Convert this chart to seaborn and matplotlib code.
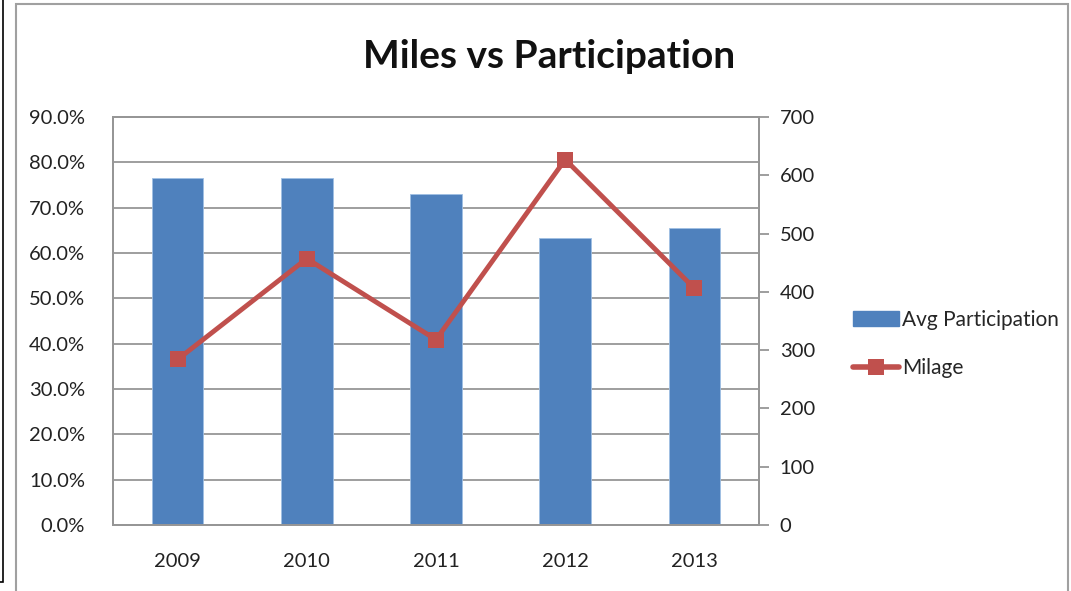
import matplotlib
matplotlib.use("Agg")
import matplotlib.pyplot as plt
import matplotlib.ticker as mtick
from matplotlib.lines import Line2D
from matplotlib.patches import Rectangle
import seaborn as sns
import pandas as pd

years = ["2009", "2010", "2011", "2012", "2013"]
participation = [76.6, 76.6, 73.0, 63.4, 65.6]
milage = [284, 457, 318, 627, 406]

sns.set_style("white")
plt.rcParams["font.family"] = ["Lato", "DejaVu Sans"]

df = pd.DataFrame({"Year": years, "Avg Participation": participation, "Milage": milage})

fig = plt.figure(figsize=(10.71, 5.91), dpi=100)
ax = fig.add_axes([113 / 1071, 1 - 525 / 591, (759 - 113) / 1071, (525 - 117) / 591])

blue = "#4f81bd"
red = "#c0504d"
grid = "#969696"

sns.barplot(data=df, x="Year", y="Avg Participation", color=blue, width=0.4,
            saturation=1, ax=ax, edgecolor="#9fbfe3", linewidth=0.6)
ax.set_ylim(0, 90)
ax.set_yticks(range(0, 91, 10))
ax.yaxis.set_major_formatter(mtick.FuncFormatter(lambda v, p: f"{v:.1f}%"))
ax.yaxis.grid(True, color=grid, linewidth=1.3)
ax.set_axisbelow(True)
ax.set_xlabel("")
ax.set_ylabel("")
ax.tick_params(axis="both", length=0, labelsize=14.5, colors="#222222")
ax.tick_params(axis="y", pad=20)
ax.tick_params(axis="x", pad=20)
for s in ax.spines.values():
    s.set_color(grid)
    s.set_linewidth(1.3)

ax2 = ax.twinx()
sns.lineplot(x=range(len(years)), y=milage, ax=ax2, color=red, linewidth=3.5,
             marker="s", markersize=12, markeredgewidth=0, zorder=5)
ax2.set_ylim(0, 700)
ax2.set_yticks(range(0, 701, 100))
ax2.set_xlim(-0.5, len(years) - 0.5)
ax2.tick_params(axis="y", direction="out", length=7, width=1.3, color=grid,
                labelsize=14.5, labelcolor="#222222", pad=8)
for s in ax2.spines.values():
    s.set_color(grid)
    s.set_linewidth(1.3)
ax2.set_ylabel("")

fig.text(549 / 1071, 1 - 57 / 591, "Miles vs Participation", ha="center", va="center",
         fontsize=28, fontweight="bold", color="#111111")

handles = [Rectangle((0, 0), 1, 1, color=blue),
           Line2D([0], [0], color=red, linewidth=4, marker="s", markersize=12, markeredgewidth=0)]
fig.legend(handles, ["Avg Participation", "Milage"], loc="upper left",
           bbox_to_anchor=(834 / 1071, 1 - 291 / 591), frameon=False, fontsize=15,
           handlelength=2.2, handletextpad=0.15, labelspacing=1.35)

fig.patches.append(Rectangle((16 / 1071, -0.1), (1068 - 16) / 1071, 1.1 - 4 / 591,
                             transform=fig.transFigure, fill=False, edgecolor="#a0a0a0",
                             linewidth=1.5))
fig.patches.append(Rectangle((-0.01, 1 - 582 / 591), 0.013, 582 / 591 + 0.02,
                             transform=fig.transFigure, fill=False, edgecolor="black",
                             linewidth=1.2))

fig.savefig("out.png", dpi=100)
